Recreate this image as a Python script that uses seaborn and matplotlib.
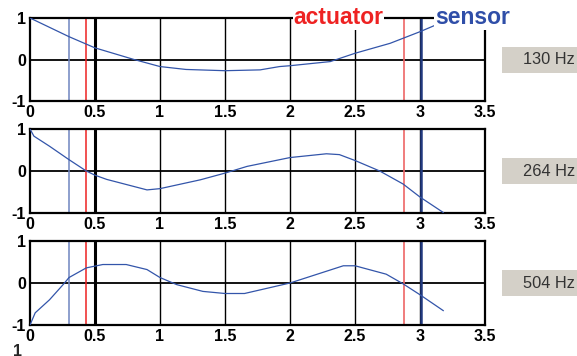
import matplotlib
matplotlib.use("Agg")
import matplotlib.pyplot as plt
import seaborn as sns
import pandas as pd

sns.set_theme(style="white")
plt.rcParams["font.family"] = ["Liberation Sans", "DejaVu Sans"]

# Mode shapes along the beam (position in m, normalised deflection)
x_130 = [0.0, 0.3, 0.5, 0.8, 1.0, 1.2, 1.5, 1.77, 1.92, 2.0, 2.31, 2.5, 2.77, 3.0, 3.12, 3.18]
y_130 = [1.0, 0.55, 0.28, 0.0, -0.17, -0.24, -0.27, -0.25, -0.17, -0.15, -0.05, 0.15, 0.39, 0.67, 0.83, 0.9]

x_264 = [0.0, 0.03, 0.15, 0.3, 0.433, 0.5, 0.59, 0.9, 1.0, 1.31, 1.5, 1.67, 2.0, 2.28, 2.38, 2.5, 2.69, 2.87, 3.0, 3.18]
y_264 = [1.0, 0.83, 0.59, 0.27, 0.0, -0.1, -0.2, -0.45, -0.42, -0.21, -0.05, 0.11, 0.32, 0.41, 0.39, 0.25, 0.0, -0.31, -0.62, -0.99]

x_504 = [0.0, 0.04, 0.15, 0.26, 0.3, 0.433, 0.56, 0.74, 0.9, 1.0, 1.13, 1.33, 1.5, 1.65, 2.0, 2.41, 2.5, 2.74, 2.87, 3.0, 3.18]
y_504 = [-1.0, -0.71, -0.4, -0.02, 0.13, 0.36, 0.44, 0.44, 0.32, 0.13, -0.04, -0.2, -0.25, -0.25, 0.0, 0.41, 0.41, 0.21, -0.02, -0.28, -0.66]

frequencies = ["130 Hz", "264 Hz", "504 Hz"]
modes = [(x_130, y_130), (x_264, y_264), (x_504, y_504)]

sensor_left, actuator_left = 0.30, 0.433
actuator_right, sensor_right = 2.877, 3.005
x_ticks = [0, 0.5, 1, 1.5, 2, 2.5, 3, 3.5]
x_tick_labels = ["0", "0.5", "1", "1.5", "2", "2.5", "3", "3.5"]
y_ticks = [-1, 0, 1]

W, H = 577, 356
fig = plt.figure(figsize=(W / 100, H / 100), dpi=100)
fig.patch.set_facecolor("white")

panels = [(18, 101), (129, 213), (241, 325)]
left, right = 30, 485

curve_color = "#3355aa"
for (top, bottom), (xs, ys), freq in zip(panels, modes, frequencies):
    ax = fig.add_axes([left / W, (H - bottom) / H, (right - left) / W, (bottom - top) / H])
    ax.set_facecolor("white")
    ax.set_xlim(0, 3.5)
    ax.set_ylim(-1, 1)
    for g in x_ticks[1:-1]:
        ax.axvline(g, color="black", lw=1.0, zorder=1)
    ax.axhline(0, color="black", lw=1.3, zorder=1)
    ax.axvline(0.5, color="black", lw=2.2, zorder=1)
    ax.axvline(sensor_left, color="#6f85c0", lw=1.1, zorder=2)
    ax.axvline(actuator_left, color="#ee2222", lw=1.1, zorder=2)
    ax.axvline(actuator_right, color="#ee6666", lw=1.2, zorder=2)
    ax.axvline(sensor_right, color="#223a80", lw=1.8, zorder=2)
    df = pd.DataFrame({"x": xs, "y": ys})
    sns.lineplot(data=df, x="x", y="y", ax=ax, color=curve_color, lw=0.9,
                 sort=False, estimator=None, zorder=3)
    ax.set_xlabel("")
    ax.set_ylabel("")
    ax.set_xticks(x_ticks)
    ax.set_xticklabels(x_tick_labels)
    ax.set_yticks(y_ticks)
    ax.set_yticklabels(["-1", "0", "1"])
    ax.tick_params(axis="both", length=0, labelsize=11.5, pad=3, colors="black")
    for lab in ax.get_xticklabels() + ax.get_yticklabels():
        lab.set_fontweight("bold")
    for sp in ax.spines.values():
        sp.set_visible(True)
        sp.set_color("black")
        sp.set_linewidth(1.6)
    ax.grid(False)
    # frequency tag to the right of the panel
    cy = (H - (top + bottom) / 2) / H
    fig.patches.append(plt.Rectangle((502 / W, cy - 13 / H), 80 / W, 26 / H,
                                     transform=fig.transFigure,
                                     facecolor="#d4d0c8", edgecolor="none"))
    fig.text(523 / W, cy, freq, ha="left", va="center", fontsize=11.8, color="#333333")
    if top == panels[0][0]:
        ax.text(2.72, 1.0, "actuator", color="#ee2222", fontsize=16.5,
                fontweight="bold", ha="right", va="center", zorder=5, clip_on=False,
                bbox=dict(facecolor="white", edgecolor="none", pad=0.5))
        ax.text(3.115, 1.0, "sensor", color="#2f4ea8", fontsize=16.5,
                fontweight="bold", ha="left", va="center", zorder=5, clip_on=False,
                bbox=dict(facecolor="white", edgecolor="none", pad=0.5))

# top tick of the next panel, just visible at the bottom edge
fig.text(18 / W, (H - 351) / H, "1", ha="center", va="center", fontsize=11.5, fontweight="bold")

fig.savefig("out.png", dpi=100, facecolor="white")
